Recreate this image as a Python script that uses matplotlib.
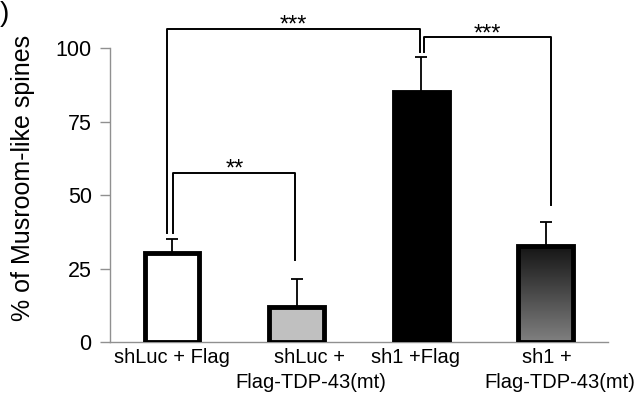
import numpy as np
import matplotlib
matplotlib.use('Agg')
import matplotlib.pyplot as plt
import matplotlib.transforms as mtransforms
from matplotlib.colors import LinearSegmentedColormap


# Data
labels = ['shLuc + Flag', 'shLuc +', 'sh1 +Flag', 'sh1 +']
labels_2nd = ['', 'Flag-TDP-43(mt)', '', 'Flag-TDP-43(mt)']
values = [30.3, 11.9, 85.2, 32.6]
errors = [4.7, 9.4, 11.8, 8.2]
ylabel = '% of Musroom-like spines'
yticks = [0, 25, 50, 75, 100]

# significance brackets: (x_left, x_right, y_top, y_left_end, y_right_end, stars)
brackets = [
    (-0.04, 1.99, 106.5, 37.0, 98.6, '***'),
    (0.01, 0.99, 57.5, 37.0, 27.9, '**'),
    (2.02, 3.04, 103.7, 98.6, 46.6, '***'),
]

plt.rcParams['font.family'] = ['Liberation Sans', 'DejaVu Sans']

fig = plt.figure(figsize=(6.42, 3.95), dpi=100)
ax = fig.add_axes([0.171, 0.134, 0.776, 0.856])

x = np.arange(len(values))
width = 0.44
edge_w = 3.5

# bars
ax.bar(x[0], values[0], width, color='white', edgecolor='black', linewidth=edge_w, zorder=3)
ax.bar(x[1], values[1], width, color='#c0c0c0', edgecolor='black', linewidth=edge_w, zorder=3)
ax.bar(x[2], values[2], width, color='black', edgecolor='black', linewidth=edge_w, zorder=3)

# gradient bar
grad = np.linspace(0, 1, 256).reshape(-1, 1)
cmap = LinearSegmentedColormap.from_list('g', ['#808080', '#151515'])
ax.imshow(grad, cmap=cmap, extent=(x[3] - width / 2, x[3] + width / 2, 0, values[3]),
          origin='lower', aspect='auto', zorder=2)
ax.bar(x[3], values[3], width, color='none', edgecolor='black', linewidth=edge_w, zorder=3)

# error bars (upper only)
ax.errorbar(x, values, yerr=[np.zeros(len(errors)), errors], fmt='none', ecolor='black',
            elinewidth=1.3, capsize=4.3, capthick=1.3, zorder=2)

# brackets
for xl, xr, yt, yl, yr, s in brackets:
    ax.plot([xl, xl, xr, xr], [yl, yt, yt, yr], color='black', linewidth=1.4,
            clip_on=False, zorder=4)
    ax.text((xl + xr) / 2, yt - 1.0, s, ha='center', va='baseline', fontsize=17,
            clip_on=False)

# axes setup
ax.set_xlim(-0.5, 3.5)
ax.set_ylim(0, 115)
ax.set_xticks(x)
ax.set_xticklabels(labels, fontsize=14.5)
ax.set_yticks(yticks)
ax.tick_params(axis='y', direction='out', length=7, width=1, color='#909090',
               labelsize=15.5, pad=6)
ax.tick_params(axis='x', length=0, pad=4)
ax.set_ylabel(ylabel, fontsize=18)
ax.yaxis.set_label_coords(-0.15, 0.485)

# small horizontal nudges of the category labels (pixels)
shifts = [0, 13, -6, 1]
for lab, dx in zip(ax.get_xticklabels(), shifts):
    lab.set_transform(lab.get_transform() +
                      mtransforms.ScaledTranslation(dx / 100, 0, fig.dpi_scale_trans))

# second lines of the category labels
shifts_2nd = [0, 14, 0, 14]
trans = mtransforms.blended_transform_factory(ax.transData, ax.transAxes)
for xi, txt, dx in zip(x, labels_2nd, shifts_2nd):
    if txt:
        ax.text(xi, -0.092, txt, fontsize=14.5, ha='center', va='top',
                transform=trans + mtransforms.ScaledTranslation(dx / 100, 0, fig.dpi_scale_trans))

for side in ['top', 'right']:
    ax.spines[side].set_visible(False)
ax.spines['left'].set_bounds(0, 100)
ax.spines['left'].set_color('#909090')
ax.spines['bottom'].set_color('#909090')
ax.spines['left'].set_linewidth(1)
ax.spines['bottom'].set_linewidth(1)

# cropped panel label
fig.text(0.0, 0.965, ')', fontsize=20, ha='left', va='center')

plt.savefig('out.png', dpi=100)
